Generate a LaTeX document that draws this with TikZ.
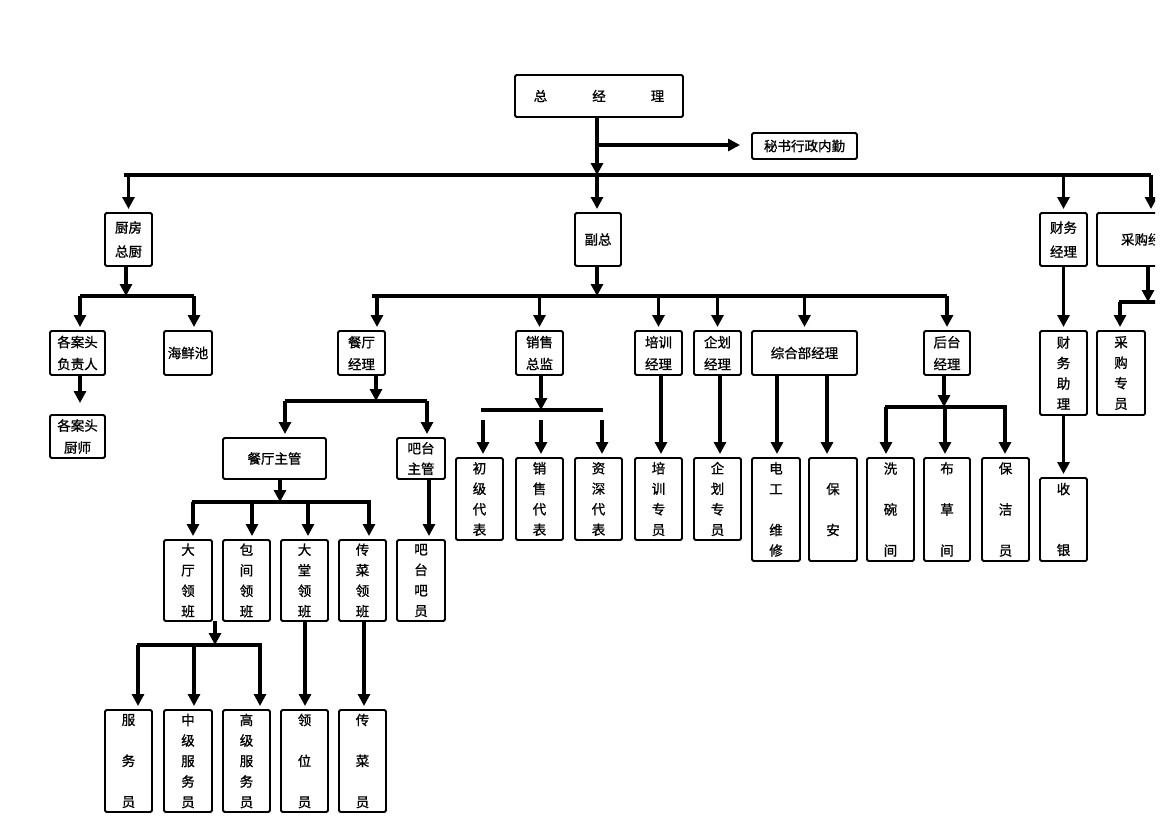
\documentclass[tikz,border=0pt]{standalone}
\usepackage{fontspec}
\newfontfamily\cjk[FakeBold=1]{Noto Sans CJK SC}
\usetikzlibrary{arrows.meta,fit}
\tikzset{
  box/.style={draw, line width=1.8pt, rounded corners=1.5pt, inner sep=0pt, outer sep=0pt},
  txt/.style={inner sep=0pt, align=center, font=\cjk\fontsize{13.5}{22}\selectfont},
  talltxt/.style={txt, font=\cjk\fontsize{13.5}{20.5}\selectfont},
  ln/.style={line width=3.6pt},
  arrb/.style={ln, -{Triangle[length=12pt,width=12pt]}},
  arr/.style={arrb, shorten >=4pt},
}
\newcommand\bx[7][txt]{\node[box, fit={(#3,#4)(#5,#6)}] (#2) {};
  \node[#1] (#2t) at (#2.center) {#7};}
\begin{document}
\begin{tikzpicture}[x=1pt,y=-1pt]
\useasboundingbox (0,0) rectangle (1169,827);
\clip (0,0) rectangle (1155,827);
% ---- boxes
\bx{zjl}{515}{75}{683}{117}{总\hspace{45pt}经\hspace{45pt}理}
\bx{ms}{752}{133}{857}{159}{秘书行政内勤}
\bx{cf}{105}{213}{152}{266}{厨房\\[2pt]总厨}
\bx{fz}{575}{213}{621}{266}{副总}
\bx{cw}{1040}{213}{1087}{266}{财务\\[2pt]经理}
\bx{cg}{1097}{213}{1199}{266}{采购经理}
\bx{ga}{50}{331}{105}{375}{各案头\\负责人}
\bx{hx}{164}{331}{212}{375}{海鲜池}
\bx{gc}{50}{415}{105}{458}{各案头\\厨师}
\bx{ct}{338}{331}{385}{375}{餐厅\\经理}
\bx{xs}{516}{331}{563}{375}{销售\\总监}
\bx{px}{635}{331}{682}{375}{培训\\经理}
\bx{qh}{694}{331}{741}{375}{企划\\经理}
\bx{zh}{752}{331}{857}{375}{综合部经理}
\bx{ht}{924}{331}{970}{375}{后台\\经理}
\bx[talltxt]{cz}{1040}{331}{1087}{415}{财\\务\\助\\理}
\bx[talltxt]{cy}{1097}{331}{1145}{415}{采\\购\\专\\员}
\bx{ctz}{223}{438}{326}{479}{餐厅主管}
\bx[talltxt]{btz}{397}{438}{445}{479}{吧台\\主管}
\bx[talltxt]{cj}{456}{458}{503}{540}{初\\级\\代\\表}
\bx[talltxt]{xd}{516}{458}{563}{540}{销\\售\\代\\表}
\bx[talltxt]{zs}{575}{458}{622}{540}{资\\深\\代\\表}
\bx[talltxt]{pz}{635}{458}{682}{540}{培\\训\\专\\员}
\bx[talltxt]{qz}{694}{458}{741}{540}{企\\划\\专\\员}
\bx[talltxt]{dg}{752}{458}{800}{561}{电\\工\\[20.5pt]维\\修}
\bx[talltxt]{ba}{809}{458}{857}{561}{保\\[20.5pt]安}
\bx[talltxt]{xw}{867}{458}{914}{561}{洗\\[20.5pt]碗\\[20.5pt]间}
\bx[talltxt]{bc}{924}{458}{970}{561}{布\\[20.5pt]草\\[20.5pt]间}
\bx[talltxt]{bj}{982}{458}{1029}{561}{保\\[20.5pt]洁\\[20.5pt]员}
\bx[talltxt]{sy}{1040}{478}{1087}{561}{收\\[40.5pt]银}
\bx[talltxt]{dt}{164}{540}{212}{621}{大\\厅\\领\\班}
\bx[talltxt]{bjl}{223}{540}{270}{621}{包\\间\\领\\班}
\bx[talltxt]{dtl}{281}{540}{328}{621}{大\\堂\\领\\班}
\bx[talltxt]{ccl}{339}{540}{386}{621}{传\\菜\\领\\班}
\bx[talltxt]{bb}{397}{540}{445}{621}{吧\\台\\吧\\员}
\bx[talltxt]{fw}{105}{710}{152}{812}{服\\[20.5pt]务\\[20.5pt]员}
\bx[talltxt]{zj}{164}{710}{212}{812}{中\\级\\服\\务\\员}
\bx[talltxt]{gj}{223}{710}{270}{812}{高\\级\\服\\务\\员}
\bx[talltxt]{lw}{281}{710}{328}{812}{领\\[20.5pt]位\\[20.5pt]员}
\bx[talltxt]{cc}{339}{710}{386}{812}{传\\[20.5pt]菜\\[20.5pt]员}
% ---- top level
\coordinate (tk) at (597,175);
\coordinate (tbL) at (124,175);
\coordinate (tbR) at (1151,175);
\coordinate (msb) at (597,145);
\draw[ln] (tbL) -- (tbR);
\draw[arrb] (tk|-zjl.south) -- (tk);
\draw[arr] (tk) -- (tk|-fz.north);
\draw[arr, shorten >=12pt] (msb) -- (msb-|ms.west);
\draw[arr] (cf.north|-tk) -- (cf.north);
\draw[arr] (cw.north|-tk) -- (cw.north);
\draw[arr] (tbR) -- (tbR|-cg.north);
% ---- kitchen
\coordinate (kb) at (126,296);
\coordinate (kL) at (80,296);
\coordinate (kR) at (194,296);
\draw[ln] (kL) -- (kR);
\draw[arrb] (kb|-cf.south) -- (kb);
\draw[arr] (kL) -- (kL|-ga.north);
\draw[arr] (kR) -- (kR|-hx.north);
\draw[arr, shorten >=12pt] (kL|-ga.south) -- (kL|-gc.north);
% ---- vice GM
\coordinate (fb) at (597,296);
\coordinate (fL) at (372,296);
\coordinate (f1) at (377,296);
\coordinate (fR) at (947,296);
\draw[ln] (fL) -- (fR);
\draw[arrb] (fb|-fz.south) -- (fb);
\draw[arr] (f1) -- (f1|-ct.north);
\draw[arr] (xs.north|-fb) -- (xs.north);
\draw[arr] (px.north|-fb) -- (px.north);
\draw[arr] (qh.north|-fb) -- (qh.north);
\draw[arr] (zh.north|-fb) -- (zh.north);
\draw[arr] (ht.north|-fb) -- (ht.north);
% ---- restaurant manager
\coordinate (rb) at (376,401);
\coordinate (rL) at (285,401);
\coordinate (rR) at (427,401);
\draw[ln] (rL) -- (rR);
\draw[arrb] (rb|-ct.south) -- (rb);
\draw[arr] (rL) -- (rL|-ctz.north);
\draw[arr] (rR) -- (rR|-btz.north);
% ---- restaurant supervisor
\coordinate (sb) at (280,502);
\coordinate (s1) at (193,502);
\coordinate (s2) at (252,502);
\coordinate (s3) at (308,502);
\coordinate (s4) at (369,502);
\draw[ln] ([xshift=-1.5pt]s1) -- ([xshift=1.5pt]s4);
\draw[arrb] (sb|-ctz.south) -- (sb);
\foreach \c/\n in {s1/dt,s2/bjl,s3/dtl,s4/ccl}
  \draw[arr] (\c) -- (\c|-\n.north);
\coordinate (bx1) at (429,479);
\draw[arr] (bx1) -- (bx1|-bb.north);
% ---- hall leader
\coordinate (hb) at (215,645);
\coordinate (h1) at (138,645);
\coordinate (h2) at (194,645);
\coordinate (h3) at (260,645);
\draw[ln] ([xshift=-1.5pt]h1) -- ([xshift=1.5pt]h3);
\draw[arrb] (hb|-dt.south) -- (hb);
\foreach \c/\n in {h1/fw,h2/zj,h3/gj}
  \draw[arr] (\c) -- (\c|-\n.north);
\coordinate (lw1) at (305,621);
\draw[arr] (lw1|-dtl.south) -- (lw1|-lw.north);
\coordinate (cc1) at (364,621);
\draw[arr] (cc1|-ccl.south) -- (cc1|-cc.north);
% ---- sales
\coordinate (xb) at (541,410);
\coordinate (xL) at (481,410);
\coordinate (xR) at (603,410);
\draw[ln] (xL) -- (xR);
\draw[arrb] (xb|-xs.south) -- (xb);
\coordinate (x1) at (483,420);
\coordinate (x2) at (541,420);
\coordinate (x3) at (602,420);
\foreach \c/\n in {x1/cj,x2/xd,x3/zs}
  \draw[arr] (\c) -- (\c|-\n.north);
% ---- training / planning / general
\coordinate (p1) at (661,375);
\draw[arr] (p1) -- (p1|-pz.north);
\coordinate (q1) at (720,375);
\draw[arr] (q1) -- (q1|-qz.north);
\coordinate (z1) at (777,375);
\coordinate (z2) at (827,375);
\draw[arr] (z1) -- (z1|-dg.north);
\draw[arr] (z2) -- (z2|-ba.north);
% ---- back office
\coordinate (tb) at (944,407);
\coordinate (t1) at (886,407);
\coordinate (t2) at (945,407);
\coordinate (t3) at (1005,407);
\draw[ln] ([xshift=-1.5pt]t1) -- ([xshift=1.5pt]t3);
\draw[arrb] (tb|-ht.south) -- (tb);
\foreach \c/\n in {t1/xw,t2/bc,t3/bj}
  \draw[arr] (\c) -- (\c|-\n.north);
% ---- finance
\draw[arr] (cw.south) -- (cw.south|-cz.north);
\draw[arr] (cz.south) -- (cz.south|-sy.north);
% ---- purchasing
\coordinate (gb) at (1148,302);
\coordinate (gL) at (1120,302);
\coordinate (gR) at (1175,302);
\draw[ln] ([xshift=-1.5pt]gL) -- (gR);
\draw[arrb] (gb|-cg.south) -- (gb);
\draw[arr] (gL) -- (gL|-cy.north);
\end{tikzpicture}
\end{document}
